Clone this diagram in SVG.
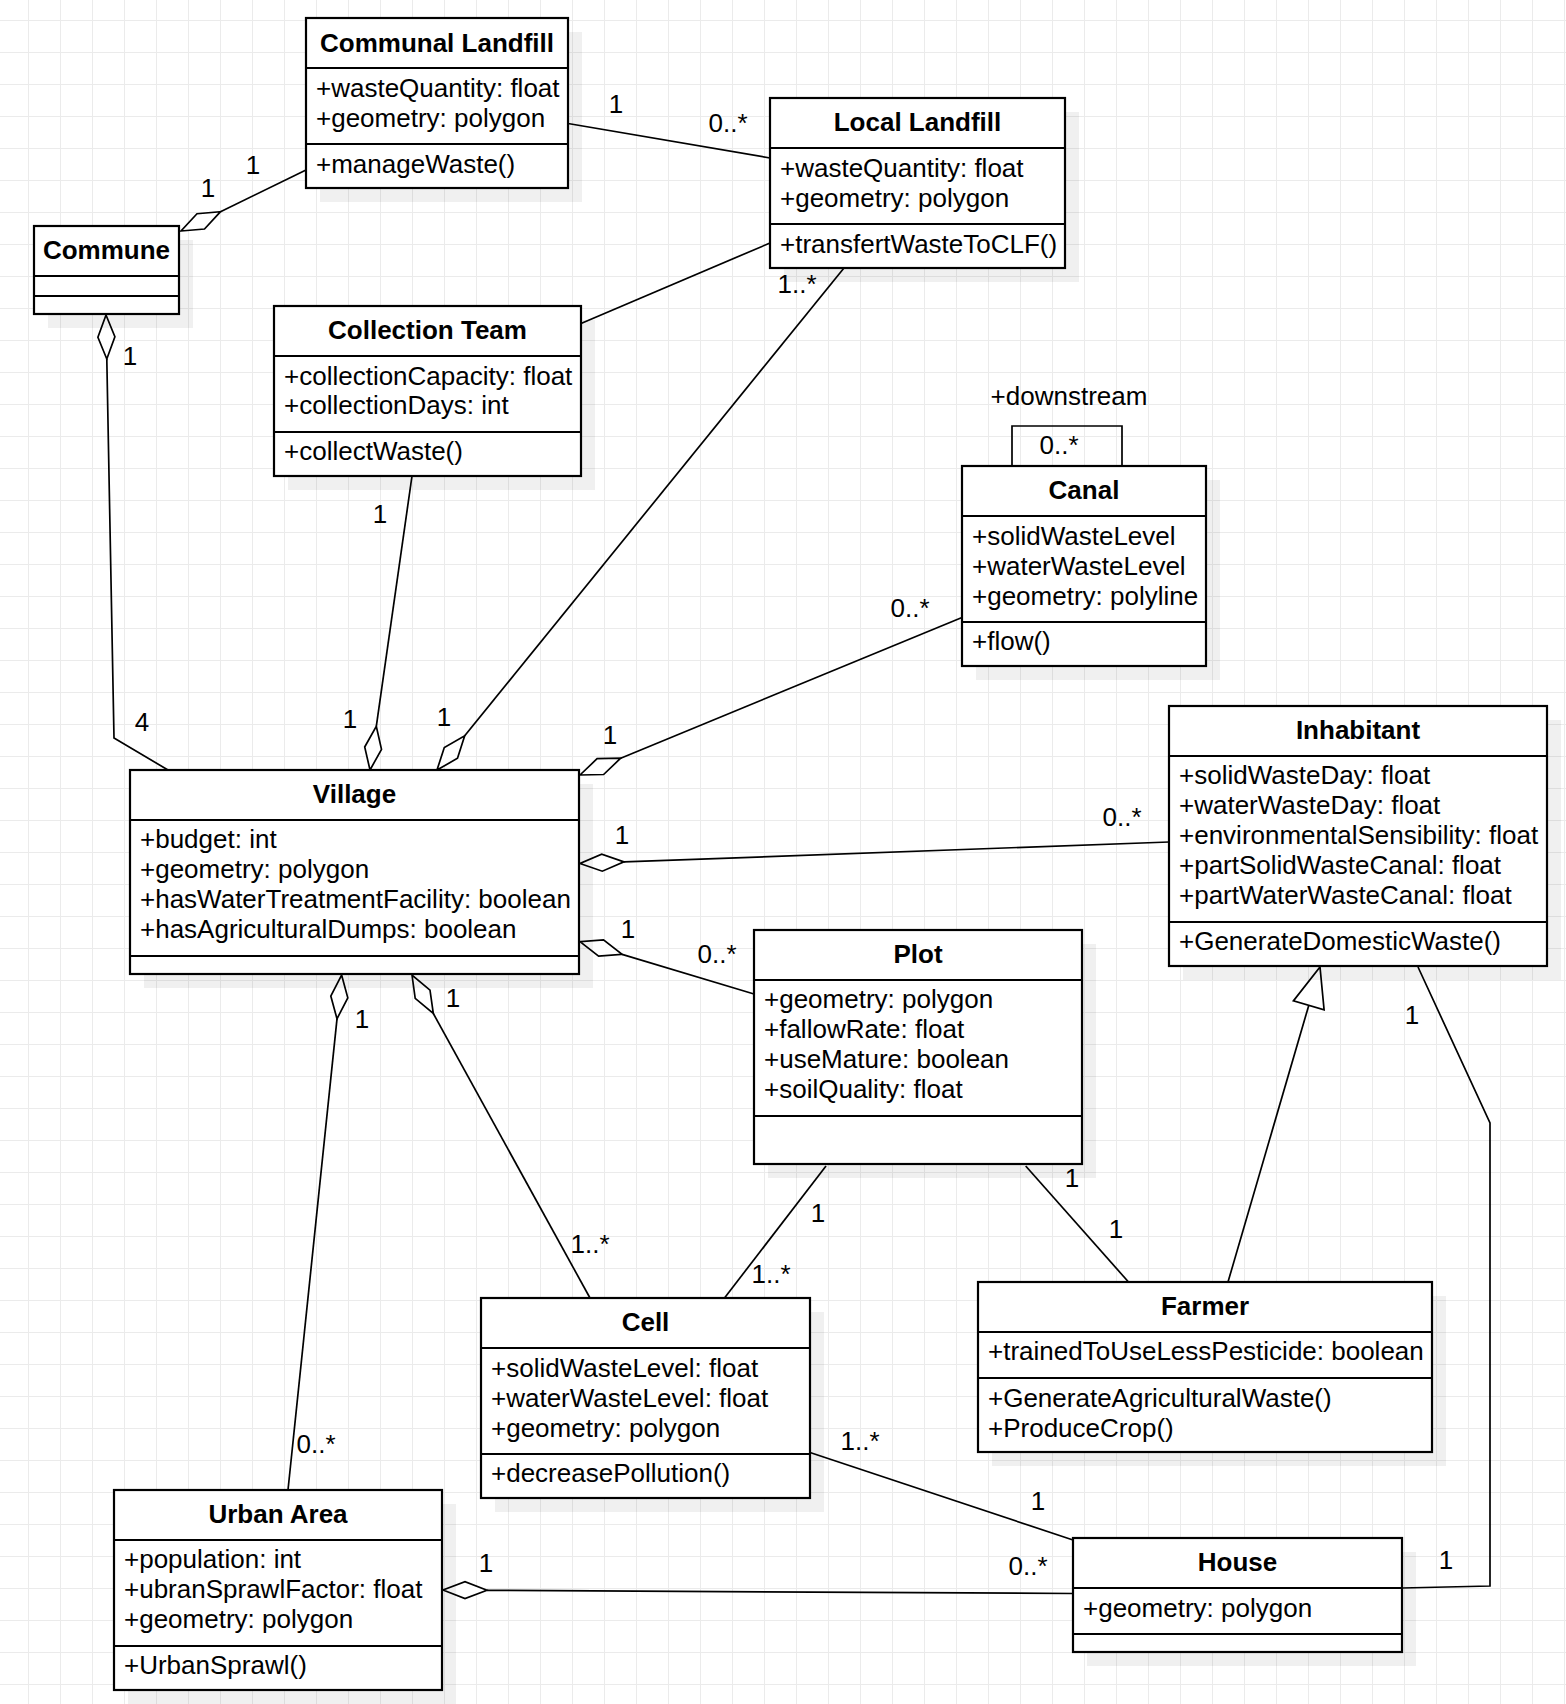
<svg xmlns="http://www.w3.org/2000/svg" width="1566" height="1704" viewBox="0 0 1566 1704">
<defs>
<pattern id="grid" x="28" y="20" width="32" height="32" patternUnits="userSpaceOnUse">
<path d="M0.5 0V32M0 0.5H32" stroke="#ebebeb" stroke-width="1" fill="none"/>
</pattern>
<style>
.box{fill:#fff;stroke:#000;stroke-width:2.2}
.sh{fill:#000;fill-opacity:0.06}
.sep{stroke:#000;stroke-width:2.2;fill:none}
.t{font-family:"Liberation Sans",Arial,Helvetica,sans-serif;font-size:26px;fill:#000}
.b{font-weight:bold;text-anchor:middle}
.c{text-anchor:middle}
.ln{stroke:#000;stroke-width:1.7;fill:none}
.dm{stroke:#000;stroke-width:1.7;fill:#fff;stroke-linejoin:miter}
</style>
</defs>
<rect width="1566" height="1704" fill="#fff"/>
<rect width="1566" height="1704" fill="url(#grid)"/>

<g id="connectors">
<!-- Commune - Communal Landfill -->
<path class="ln" d="M220.5 211.7L306 170"/>
<polygon class="dm" points="181,231 204.5,229 220.5,211.7 197,213.7"/>
<!-- Communal Landfill - Local Landfill -->
<path class="ln" d="M568 123.5L770 158"/>
<!-- Collection Team - Local Landfill -->
<path class="ln" d="M581 323.5L770 243"/>
<!-- Local Landfill - Village -->
<path class="ln" d="M464.7 735.8L844 268"/>
<polygon class="dm" points="437,770 457.5,758.3 464.7,735.8 444.3,747.5"/>
<!-- Collection Team - Village -->
<path class="ln" d="M376.3 726.4L412 476"/>
<polygon class="dm" points="370,770 381.5,749.4 376.3,726.4 364.7,747"/>
<!-- Commune - Village -->
<path class="ln" d="M106.8 359L114 738L168 770"/>
<polygon class="dm" points="106,315 114.9,336.8 106.8,359 97.9,337.2"/>
<!-- Canal - Village -->
<path class="ln" d="M620.7 758.2L962 617.5"/>
<polygon class="dm" points="580,775 603.6,774.5 620.7,758.2 597.1,758.7"/>
<!-- Inhabitant - Village -->
<path class="ln" d="M624 861.9L1169 842"/>
<polygon class="dm" points="580,863.5 602.3,871.2 624,861.9 601.7,854.2"/>
<!-- Plot - Village -->
<path class="ln" d="M622.1 954.4L754 994"/>
<polygon class="dm" points="580,941.7 598.6,956.2 622.1,954.4 603.5,939.9"/>
<!-- Village - Urban Area -->
<path class="ln" d="M337 1018.8L288 1490"/>
<polygon class="dm" points="341.6,975 347.8,997.8 337,1018.8 330.8,996"/>
<!-- Village - Cell -->
<path class="ln" d="M433.3 1013.5L590 1298"/>
<polygon class="dm" points="412,975 415.2,998.4 433.3,1013.5 430,990.2"/>
<!-- Plot - Cell -->
<path class="ln" d="M826 1166L724.5 1298"/>
<!-- Plot - Farmer -->
<path class="ln" d="M1025.7 1166L1128.5 1282"/>
<!-- Farmer - Inhabitant (generalization) -->
<path class="ln" d="M1308.75 1005.4L1228 1282"/>
<polygon class="dm" points="1320,967 1324.1,1009.9 1293.4,1000.9"/>
<!-- Inhabitant - House -->
<path class="ln" d="M1418 967L1490 1123V1586L1402 1588"/>
<!-- Cell - House -->
<path class="ln" d="M810 1452.5L1073 1540"/>
<!-- Urban Area - House -->
<path class="ln" d="M487 1590.3L1073 1593.5"/>
<polygon class="dm" points="443,1590 465,1598.6 487,1590.3 465,1581.6"/>
<!-- Canal self loop -->
<path class="ln" d="M1012 466V426H1122V466"/>

<text class="t c" x="253" y="174">1</text>
<text class="t c" x="208" y="197">1</text>
<text class="t c" x="616" y="113">1</text>
<text class="t c" x="728" y="132">0..*</text>
<text class="t c" x="797" y="293">1..*</text>
<text class="t c" x="130" y="365">1</text>
<text class="t c" x="142" y="731">4</text>
<text class="t c" x="380" y="523">1</text>
<text class="t c" x="350" y="728">1</text>
<text class="t c" x="444" y="726">1</text>
<text class="t c" x="1069" y="405">+downstream</text>
<text class="t c" x="1059" y="454">0..*</text>
<text class="t c" x="910" y="617">0..*</text>
<text class="t c" x="610" y="744">1</text>
<text class="t c" x="622" y="844">1</text>
<text class="t c" x="1122" y="826">0..*</text>
<text class="t c" x="628" y="938">1</text>
<text class="t c" x="717" y="963">0..*</text>
<text class="t c" x="362" y="1028">1</text>
<text class="t c" x="453" y="1007">1</text>
<text class="t c" x="590" y="1253">1..*</text>
<text class="t c" x="818" y="1222">1</text>
<text class="t c" x="771" y="1283">1..*</text>
<text class="t c" x="1072" y="1187">1</text>
<text class="t c" x="1116" y="1238">1</text>
<text class="t c" x="1412" y="1024">1</text>
<text class="t c" x="1446" y="1569">1</text>
<text class="t c" x="316" y="1453">0..*</text>
<text class="t c" x="860" y="1450">1..*</text>
<text class="t c" x="1038" y="1510">1</text>
<text class="t c" x="486" y="1572">1</text>
<text class="t c" x="1028" y="1575">0..*</text>
</g>

<g id="communal-landfill">
<rect class="sh" x="320" y="32" width="262" height="170"/>
<rect class="box" x="306" y="18" width="262" height="170"/>
<path class="sep" d="M306 68H568M306 144H568"/>
<text class="t b" x="437" y="52">Communal Landfill</text>
<text class="t" x="316" y="96.5">+wasteQuantity: float</text>
<text class="t" x="316" y="126.5">+geometry: polygon</text>
<text class="t" x="316" y="172.5">+manageWaste()</text>
</g>

<g id="commune">
<rect class="sh" x="48" y="240" width="145" height="88"/>
<rect class="box" x="34" y="226" width="145" height="88"/>
<path class="sep" d="M34 276H179M34 296H179"/>
<text class="t b" x="106.5" y="259">Commune</text>
</g>

<g id="local-landfill">
<rect class="sh" x="784" y="112" width="295" height="170"/>
<rect class="box" x="770" y="98" width="295" height="170"/>
<path class="sep" d="M770 148H1065M770 224H1065"/>
<text class="t b" x="917.5" y="131">Local Landfill</text>
<text class="t" x="780" y="176.5">+wasteQuantity: float</text>
<text class="t" x="780" y="206.5">+geometry: polygon</text>
<text class="t" x="780" y="252.5">+transfertWasteToCLF()</text>
</g>

<g id="collection-team">
<rect class="sh" x="288" y="320" width="307" height="170"/>
<rect class="box" x="274" y="306" width="307" height="170"/>
<path class="sep" d="M274 356H581M274 432H581"/>
<text class="t b" x="427.5" y="339">Collection Team</text>
<text class="t" x="284" y="384.5">+collectionCapacity: float</text>
<text class="t" x="284" y="414">+collectionDays: int</text>
<text class="t" x="284" y="460">+collectWaste()</text>
</g>

<g id="canal">
<rect class="sh" x="976" y="480" width="244" height="200"/>
<rect class="box" x="962" y="466" width="244" height="200"/>
<path class="sep" d="M962 516H1206M962 622H1206"/>
<text class="t b" x="1084" y="499">Canal</text>
<text class="t" x="972" y="544.5">+solidWasteLevel</text>
<text class="t" x="972" y="574.5">+waterWasteLevel</text>
<text class="t" x="972" y="604.5">+geometry: polyline</text>
<text class="t" x="972" y="650">+flow()</text>
</g>

<g id="inhabitant">
<rect class="sh" x="1183" y="720" width="378" height="260"/>
<rect class="box" x="1169" y="706" width="378" height="260"/>
<path class="sep" d="M1169 756H1547M1169 922H1547"/>
<text class="t b" x="1358" y="739">Inhabitant</text>
<text class="t" x="1179" y="784">+solidWasteDay: float</text>
<text class="t" x="1179" y="814">+waterWasteDay: float</text>
<text class="t" x="1179" y="844">+environmentalSensibility: float</text>
<text class="t" x="1179" y="874">+partSolidWasteCanal: float</text>
<text class="t" x="1179" y="904">+partWaterWasteCanal: float</text>
<text class="t" x="1179" y="950">+GenerateDomesticWaste()</text>
</g>

<g id="village">
<rect class="sh" x="144" y="784" width="449" height="204"/>
<rect class="box" x="130" y="770" width="449" height="204"/>
<path class="sep" d="M130 820H579M130 956H579"/>
<text class="t b" x="354.5" y="803">Village</text>
<text class="t" x="140" y="848">+budget: int</text>
<text class="t" x="140" y="878">+geometry: polygon</text>
<text class="t" x="140" y="908">+hasWaterTreatmentFacility: boolean</text>
<text class="t" x="140" y="938">+hasAgriculturalDumps: boolean</text>
</g>

<g id="plot">
<rect class="sh" x="768" y="944" width="328" height="234"/>
<rect class="box" x="754" y="930" width="328" height="234"/>
<path class="sep" d="M754 980H1082M754 1116H1082"/>
<text class="t b" x="918" y="963">Plot</text>
<text class="t" x="764" y="1008">+geometry: polygon</text>
<text class="t" x="764" y="1038">+fallowRate: float</text>
<text class="t" x="764" y="1068">+useMature: boolean</text>
<text class="t" x="764" y="1098">+soilQuality: float</text>
</g>

<g id="cell">
<rect class="sh" x="495" y="1312" width="329" height="200"/>
<rect class="box" x="481" y="1298" width="329" height="200"/>
<path class="sep" d="M481 1348H810M481 1454H810"/>
<text class="t b" x="645.5" y="1331">Cell</text>
<text class="t" x="491" y="1376.5">+solidWasteLevel: float</text>
<text class="t" x="491" y="1406.5">+waterWasteLevel: float</text>
<text class="t" x="491" y="1436.5">+geometry: polygon</text>
<text class="t" x="491" y="1482">+decreasePollution()</text>
</g>

<g id="farmer">
<rect class="sh" x="992" y="1296" width="454" height="170"/>
<rect class="box" x="978" y="1282" width="454" height="170"/>
<path class="sep" d="M978 1332H1432M978 1378H1432"/>
<text class="t b" x="1205" y="1315">Farmer</text>
<text class="t" x="988" y="1360">+trainedToUseLessPesticide: boolean</text>
<text class="t" x="988" y="1406.5">+GenerateAgriculturalWaste()</text>
<text class="t" x="988" y="1436.5">+ProduceCrop()</text>
</g>

<g id="urban-area">
<rect class="sh" x="128" y="1504" width="328" height="200"/>
<rect class="box" x="114" y="1490" width="328" height="200"/>
<path class="sep" d="M114 1540H442M114 1646H442"/>
<text class="t b" x="278" y="1523">Urban Area</text>
<text class="t" x="124" y="1568">+population: int</text>
<text class="t" x="124" y="1598">+ubranSprawlFactor: float</text>
<text class="t" x="124" y="1628">+geometry: polygon</text>
<text class="t" x="124" y="1674">+UrbanSprawl()</text>
</g>

<g id="house">
<rect class="sh" x="1087" y="1552" width="329" height="114"/>
<rect class="box" x="1073" y="1538" width="329" height="114"/>
<path class="sep" d="M1073 1588H1402M1073 1634H1402"/>
<text class="t b" x="1237.5" y="1571">House</text>
<text class="t" x="1083" y="1616.5">+geometry: polygon</text>
</g>
</svg>
